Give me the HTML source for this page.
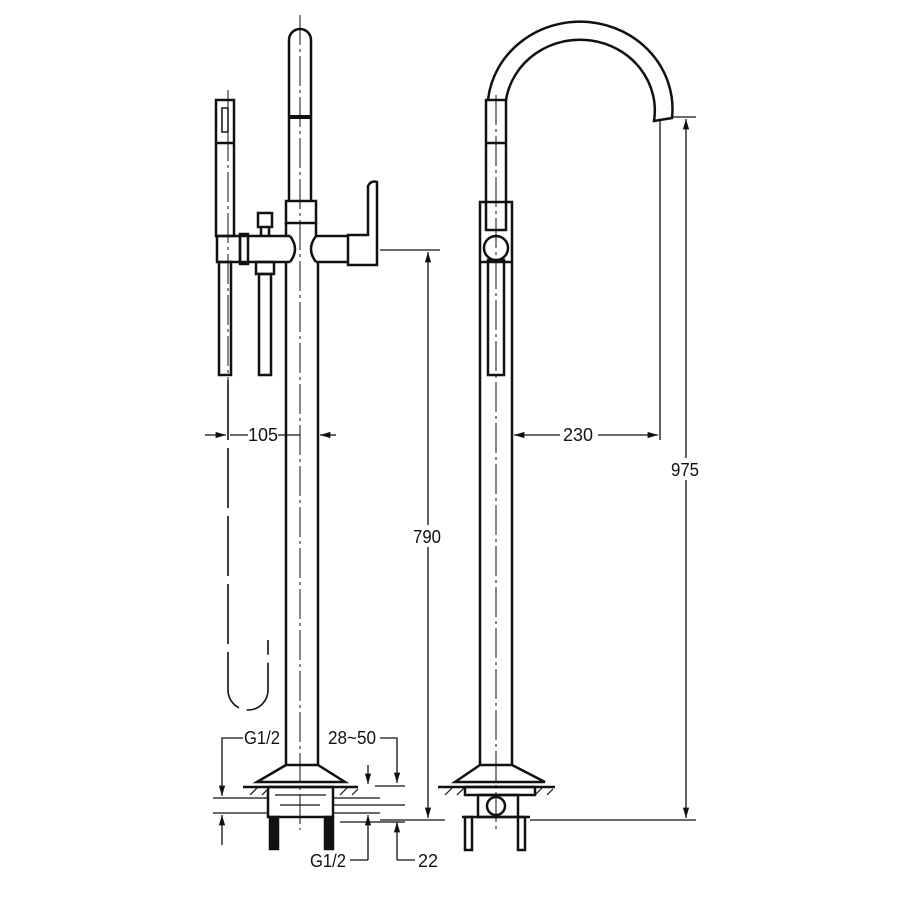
<!DOCTYPE html>
<html><head><meta charset="utf-8"><style>
html,body{margin:0;padding:0;background:#fff;width:900px;height:900px;overflow:hidden}
svg text{font-family:"Liberation Sans",sans-serif;font-size:18px;fill:#111}
</style></head><body>
<svg width="900" height="900" viewBox="0 0 900 900" xmlns="http://www.w3.org/2000/svg">
<defs>
<marker id="a" viewBox="0 0 10 10" refX="10" refY="5" markerWidth="8" markerHeight="8" orient="auto-start-reverse"><path d="M0,2 L10,5 L0,8 z" fill="#111"/></marker>
</defs>
<g fill="none" stroke="#111" stroke-width="2.5">
<path d="M289,201 V40 A11,11 0 0 1 311,40 V201"/>
<line x1="289" y1="117" x2="311" y2="117" stroke-width="4"/>
<rect x="286" y="201" width="30" height="22"/>
<path d="M286,223 V236 M316,223 V236"/>
<path d="M240,236 H290 M240,262 H290 M316,236 H348 M316,262 H348"/>
<path d="M290,236 Q300,249 290,262 M316,236 Q306,249 316,262"/>
<rect x="240" y="234" width="8" height="30"/>
<rect x="217" y="236" width="23" height="26"/>
<path d="M348,235 H368 V186 Q371,180 377,182 V265 H348 Z"/>
<rect x="258" y="213" width="14" height="14"/>
<path d="M261,227 V236 M269,227 V236"/>
<rect x="256" y="262" width="18" height="12"/>
<rect x="216" y="100" width="18" height="136"/>
<line x1="216" y1="143" x2="234" y2="143"/>
<rect x="222" y="108" width="6" height="24" stroke-width="1.5"/>
<rect x="219" y="262" width="12" height="113"/>
<rect x="259" y="274" width="12" height="101"/>
<path d="M286,262 V765 M318,262 V765"/>
<path d="M228,380 V690 A20,20 0 0 0 268,690 V640" stroke-width="1.6" stroke-dasharray="60,8"/>
<path d="M286,765 L257,782 H345 L318,765 Z"/>
<line x1="243" y1="787" x2="358" y2="787"/>
<path d="M250,795 l8,-8 M262,795 l8,-8 M340,795 l8,-8 M352,795 l6,-6" stroke-width="1.2"/>
<rect x="268" y="787" width="65" height="30"/>
<path d="M275,795 H326 M280,805 H320" stroke-width="1.2"/>
<rect x="270" y="817" width="8" height="32" fill="#111"/>
<rect x="325" y="817" width="8" height="32" fill="#111"/>
<line x1="300" y1="15" x2="300" y2="830" stroke-width="1" stroke-dasharray="30,4,3,4"/>
<line x1="228" y1="90" x2="228" y2="400" stroke-width="1" stroke-dasharray="30,4,3,4"/>

<path d="M488,100 A90,85 0 0 1 672,118 L654,121 A74,70 0 0 0 506,100"/>
<rect x="486" y="100" width="20" height="130"/>
<line x1="486" y1="143" x2="506" y2="143"/>
<rect x="480" y="202" width="32" height="60"/>
<circle cx="496" cy="248" r="12"/>
<rect x="488" y="260" width="16" height="115"/>
<path d="M480,262 V765 M512,262 V765"/>
<path d="M480,765 L455,782 H545 L512,765 Z"/>
<line x1="438" y1="787" x2="555" y2="787"/>
<path d="M445,795 l8,-8 M457,795 l8,-8 M535,795 l8,-8 M547,795 l6,-6" stroke-width="1.2"/>
<rect x="465" y="787" width="70" height="8"/>
<rect x="478" y="795" width="40" height="22"/>
<circle cx="496" cy="806" r="9"/>
<path d="M462,817 H530" />
<rect x="465" y="817" width="7" height="33"/>
<rect x="518" y="817" width="7" height="33"/>
<line x1="496" y1="95" x2="496" y2="830" stroke-width="1" stroke-dasharray="30,4,3,4"/>
</g>

<g fill="none" stroke="#111" stroke-width="1.3">
<line x1="205" y1="435" x2="226" y2="435" marker-end="url(#a)"/>
<line x1="230" y1="435" x2="248" y2="435"/>
<line x1="278" y1="435" x2="300" y2="435"/>
<line x1="336" y1="435" x2="320" y2="435" marker-end="url(#a)"/>
<line x1="380" y1="250" x2="440" y2="250"/>
<line x1="428" y1="252" x2="428" y2="818" marker-start="url(#a)" marker-end="url(#a)"/>
<line x1="514" y1="435" x2="560" y2="435" marker-start="url(#a)"/>
<line x1="598" y1="435" x2="658" y2="435" marker-end="url(#a)"/>
<line x1="660" y1="120" x2="660" y2="440"/>
<line x1="672" y1="117" x2="696" y2="117"/>
<line x1="686" y1="119" x2="686" y2="818" marker-start="url(#a)" marker-end="url(#a)"/>
<line x1="530" y1="820" x2="696" y2="820"/>
<line x1="380" y1="820" x2="445" y2="820"/>
<path d="M243,738 H222 V796" marker-end="url(#a)"/>
<path d="M222,845 V815" marker-end="url(#a)"/>
<line x1="213" y1="798" x2="268" y2="798"/>
<line x1="213" y1="813" x2="268" y2="813"/>
<path d="M380,738 H397 V783" marker-end="url(#a)"/>
<path d="M397,860 H415"/>
<path d="M397,860 V822" marker-end="url(#a)"/>
<line x1="375" y1="786" x2="405" y2="786"/>
<line x1="333" y1="805" x2="405" y2="805"/>
<line x1="340" y1="822" x2="405" y2="822"/>
<line x1="333" y1="798" x2="380" y2="798"/>
<line x1="333" y1="813" x2="380" y2="813"/>
<path d="M368,765 V784" marker-end="url(#a)"/>
<path d="M368,860 V815" marker-end="url(#a)"/>
<path d="M368,860 H350"/>
</g>
<text x="248" y="441" textLength="30" lengthAdjust="spacingAndGlyphs">105</text>
<rect x="415" y="525" width="28" height="22" fill="#fff"/>
<text x="413" y="543" textLength="28" lengthAdjust="spacingAndGlyphs">790</text>
<text x="563" y="441" textLength="30" lengthAdjust="spacingAndGlyphs">230</text>
<rect x="672" y="458" width="28" height="22" fill="#fff"/>
<text x="671" y="476" textLength="28" lengthAdjust="spacingAndGlyphs">975</text>
<text x="244" y="744" textLength="36" lengthAdjust="spacingAndGlyphs">G1/2</text>
<text x="328" y="744" textLength="48" lengthAdjust="spacingAndGlyphs">28~50</text>
<text x="310" y="867" textLength="36" lengthAdjust="spacingAndGlyphs">G1/2</text>
<text x="418" y="867" textLength="20" lengthAdjust="spacingAndGlyphs">22</text>
</svg>
</body></html>
